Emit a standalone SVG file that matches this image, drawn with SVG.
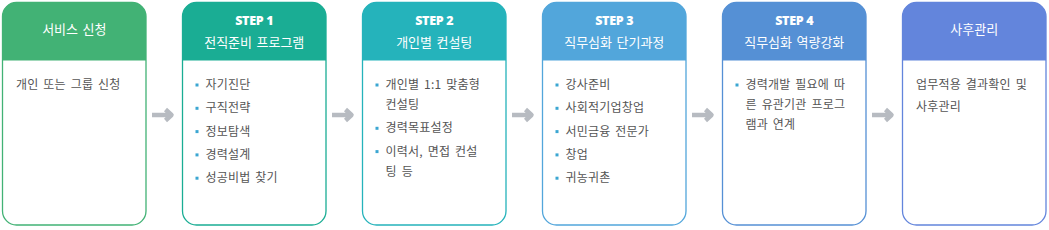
<svg xmlns="http://www.w3.org/2000/svg" xmlns:xlink="http://www.w3.org/1999/xlink" width="1049" height="230" viewBox="0 0 1049 230">
<style>
text{font-family:"Noto Sans CJK KR","Noto Sans",sans-serif;}
.hd{font-size:13px;fill:#ffffff;text-anchor:middle;word-spacing:1.5px;}
.st{font-family:"Noto Sans","Noto Sans CJK KR",sans-serif;font-size:12.5px;font-weight:900;fill:#ffffff;text-anchor:middle;letter-spacing:-0.3px;}
.bd{font-size:12px;fill:#555555;word-spacing:2px;letter-spacing:0.2px;}
.bl{fill:#3ba6d2;}
.frame{fill:#ffffff;stroke-width:1.3;}
.arr{fill:none;stroke:#b7bbc1;stroke-width:4.5;stroke-linejoin:round;}
</style>
<defs>
<path id="hdr" d="M0,58 V14 A14,14 0 0 1 14,0 H129.5 A14,14 0 0 1 143.5,14 V58 Z"/>
<rect id="frm" x="0" y="0" width="143.5" height="222.5" rx="14" ry="14"/>
<rect id="dot" x="0" y="0" width="3" height="3"/>
</defs>
<g id="connectors">
<path class="arr" d="M152,115 H171 M165.5,109.5 L171.5,115 L165.5,120.5"/>
<path class="arr" d="M332,115 H351 M345.5,109.5 L351.5,115 L345.5,120.5"/>
<path class="arr" d="M512,115 H531 M525.5,109.5 L531.5,115 L525.5,120.5"/>
<path class="arr" d="M692,115 H711 M705.5,109.5 L711.5,115 L705.5,120.5"/>
<path class="arr" d="M872,115 H891 M885.5,109.5 L891.5,115 L885.5,120.5"/>
</g>
<g id="node-apply" transform="translate(2.5,2.5)">
<use xlink:href="#frm" class="frame" stroke="#42b275"/>
<use xlink:href="#hdr" fill="#42b275"/>
<text class="hd" x="71.75" y="31.5">서비스 신청</text>
<text class="bd" x="13.5" y="86.5">개인 또는 그룹 신청</text>
</g>
<g id="node-step1" transform="translate(182.5,2.5)">
<use xlink:href="#frm" class="frame" stroke="#1aad94"/>
<use xlink:href="#hdr" fill="#1aad94"/>
<text class="st" x="71.75" y="22.5">STEP 1</text>
<text class="hd" x="71.75" y="44.5">전직준비 프로그램</text>
<use xlink:href="#dot" class="bl" x="13" y="81"/>
<text class="bd" x="23" y="86.5">자기진단</text>
<use xlink:href="#dot" class="bl" x="13" y="104.3"/>
<text class="bd" x="23" y="109.8">구직전략</text>
<use xlink:href="#dot" class="bl" x="13" y="127.6"/>
<text class="bd" x="23" y="133.1">정보탐색</text>
<use xlink:href="#dot" class="bl" x="13" y="150.9"/>
<text class="bd" x="23" y="156.4">경력설계</text>
<use xlink:href="#dot" class="bl" x="13" y="174.2"/>
<text class="bd" x="23" y="179.7">성공비법 찾기</text>
</g>
<g id="node-step2" transform="translate(362.5,2.5)">
<use xlink:href="#frm" class="frame" stroke="#25b3bb"/>
<use xlink:href="#hdr" fill="#25b3bb"/>
<text class="st" x="71.75" y="22.5">STEP 2</text>
<text class="hd" x="71.75" y="44.5">개인별 컨설팅</text>
<use xlink:href="#dot" class="bl" x="13" y="81"/>
<text class="bd" x="23" y="86.5">개인별 1:1 맞춤형</text>
<text class="bd" x="23" y="106.5">컨설팅</text>
<use xlink:href="#dot" class="bl" x="13" y="124.3"/>
<text class="bd" x="23" y="129.8">경력목표설정</text>
<use xlink:href="#dot" class="bl" x="13" y="147.6"/>
<text class="bd" x="23" y="153.1">이력서, 면접 컨설</text>
<text class="bd" x="23" y="173.1">팅 등</text>
</g>
<g id="node-step3" transform="translate(542.5,2.5)">
<use xlink:href="#frm" class="frame" stroke="#52a6db"/>
<use xlink:href="#hdr" fill="#52a6db"/>
<text class="st" x="71.75" y="22.5">STEP 3</text>
<text class="hd" x="71.75" y="44.5">직무심화 단기과정</text>
<use xlink:href="#dot" class="bl" x="13" y="81"/>
<text class="bd" x="23" y="86.5">강사준비</text>
<use xlink:href="#dot" class="bl" x="13" y="104.3"/>
<text class="bd" x="23" y="109.8">사회적기업창업</text>
<use xlink:href="#dot" class="bl" x="13" y="127.6"/>
<text class="bd" x="23" y="133.1">서민금융 전문가</text>
<use xlink:href="#dot" class="bl" x="13" y="150.9"/>
<text class="bd" x="23" y="156.4">창업</text>
<use xlink:href="#dot" class="bl" x="13" y="174.2"/>
<text class="bd" x="23" y="179.7">귀농귀촌</text>
</g>
<g id="node-step4" transform="translate(722.5,2.5)">
<use xlink:href="#frm" class="frame" stroke="#5590d5"/>
<use xlink:href="#hdr" fill="#5590d5"/>
<text class="st" x="71.75" y="22.5">STEP 4</text>
<text class="hd" x="71.75" y="44.5">직무심화 역량강화</text>
<use xlink:href="#dot" class="bl" x="13" y="81"/>
<text class="bd" x="23" y="86.5">경력개발 필요에 따</text>
<text class="bd" x="23" y="106.5">른 유관기관 프로그</text>
<text class="bd" x="23" y="126.5">램과 연계</text>
</g>
<g id="node-aftercare" transform="translate(902.5,2.5)">
<use xlink:href="#frm" class="frame" stroke="#6385dc"/>
<use xlink:href="#hdr" fill="#6385dc"/>
<text class="hd" x="71.75" y="31.5">사후관리</text>
<text class="bd" x="13.5" y="86.5">업무적용 결과확인 및</text>
<text class="bd" x="13.5" y="108.5">사후관리</text>
</g>
</svg>
